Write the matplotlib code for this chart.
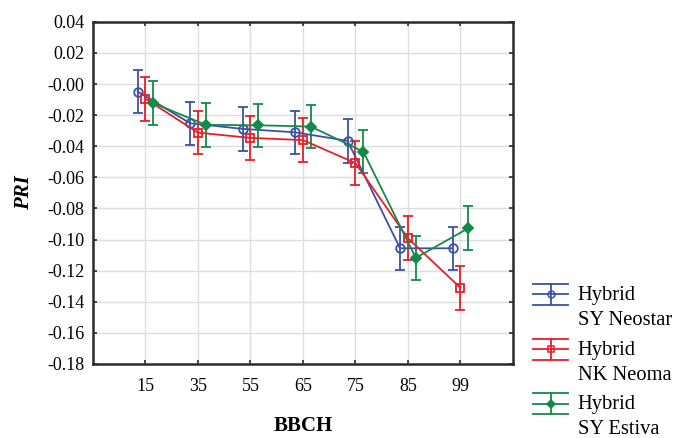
import matplotlib
matplotlib.use("Agg")
import matplotlib.pyplot as plt
from matplotlib.lines import Line2D
from matplotlib.legend_handler import HandlerBase
from matplotlib.container import ErrorbarContainer
import numpy as np

plt.rcParams["font.family"] = ["Liberation Serif", "DejaVu Serif"]
plt.rcParams["axes.unicode_minus"] = False

# Growth stages (BBCH) and mean PRI per hybrid with error half-widths
stages = ["15", "35", "55", "65", "75", "85", "99"]
neostar = [-0.0048, -0.0252, -0.0288, -0.0310, -0.0365, -0.1056, -0.1056]
neostar_err = [0.014, 0.014, 0.014, 0.014, 0.014, 0.014, 0.014]
neoma = [-0.0095, -0.0312, -0.0346, -0.0360, -0.0508, -0.0991, -0.1310]
neoma_err = [0.014, 0.014, 0.014, 0.014, 0.014, 0.014, 0.014]
estiva = [-0.0123, -0.0262, -0.0265, -0.0273, -0.0434, -0.1118, -0.0927]
estiva_err = [0.014, 0.014, 0.014, 0.014, 0.014, 0.014, 0.014]
labels = ["Hybrid\nSY Neostar", "Hybrid\nNK Neoma", "Hybrid\nSY Estiva"]

yticks = np.round(np.arange(-0.18, 0.0401, 0.02), 2)

series = [
    (neostar, neostar_err, "#3953a4", "o", 6.2, "none", -0.15),
    (neoma, neoma_err, "#ee1c25", "s", 5.8, "none", 0.0),
    (estiva, estiva_err, "#138a4a", "D", 4.6, "#138a4a", 0.15),
]

fig = plt.figure(figsize=(6.75, 4.38), dpi=100)
ax = fig.add_axes([0.1378, 0.169, 0.622, 0.781])

x = np.arange(1, len(stages) + 1)
containers = []
for vals, errs, col, mk, ms, mfc, off in series:
    c = ax.errorbar(x + off, vals, yerr=errs, color=col, marker=mk,
                    markersize=ms, markerfacecolor=mfc, markeredgecolor=col,
                    markeredgewidth=1.3, linewidth=1.3, elinewidth=1.3,
                    capsize=3.5, capthick=1.3, zorder=3)
    containers.append(c)


class ErrHandler(HandlerBase):
    """Legend key: horizontal line with full-width caps and a central marker."""

    def create_artists(self, legend, orig_handle, xdescent, ydescent,
                       width, height, fontsize, trans):
        line = orig_handle.lines[0]
        col = line.get_color()
        yc = height / 2 - ydescent + 9.8
        dy = 7.6
        arts = []
        for yy in (yc - dy, yc, yc + dy):
            arts.append(Line2D([-xdescent, -xdescent + width], [yy, yy],
                               color=col, linewidth=1.3, transform=trans))
        xm = -xdescent + width / 2
        arts.append(Line2D([xm, xm], [yc - dy, yc + dy], color=col,
                           linewidth=1.3, transform=trans))
        arts.append(Line2D([xm], [yc], marker=line.get_marker(),
                           markersize=line.get_markersize() * 0.8,
                           markerfacecolor=line.get_markerfacecolor(),
                           markeredgecolor=col, markeredgewidth=1.1,
                           linestyle="none", transform=trans))
        return arts


leg = ax.legend(containers, labels, handler_map={ErrorbarContainer: ErrHandler()},
                loc="upper left", bbox_to_anchor=(0.778, 0.365),
                bbox_transform=fig.transFigure, frameon=False,
                fontsize=14.8, handlelength=1.7, handletextpad=0.45,
                labelspacing=0.52, borderaxespad=0)
for t in leg.get_texts():
    t.set_linespacing(1.42)

ax.set_xlim(0, len(stages) + 1)
ax.set_xticks(x)
ax.set_xticklabels(stages)
ax.set_ylim(-0.18, 0.04)
ax.set_yticks(yticks)
ax.set_yticklabels([f"{v:.2f}" for v in yticks])

ax.grid(True, color="#dedede", linewidth=1.0, zorder=0)
ax.set_axisbelow(True)
for sp in ax.spines.values():
    sp.set_linewidth(1.8)
    sp.set_color("#2a2a2a")
ax.tick_params(direction="in", length=3, width=1.2, color="#2a2a2a",
               top=True, right=True, labelsize=13, pad=6)
ax.tick_params(axis="x", pad=10)

ax.set_xlabel("BBCH", fontsize=15, fontweight="bold", labelpad=15)
ax.set_ylabel("PRI", fontsize=15, fontweight="bold", fontstyle="italic",
              labelpad=10)

fig.savefig("out.png", dpi=100)
